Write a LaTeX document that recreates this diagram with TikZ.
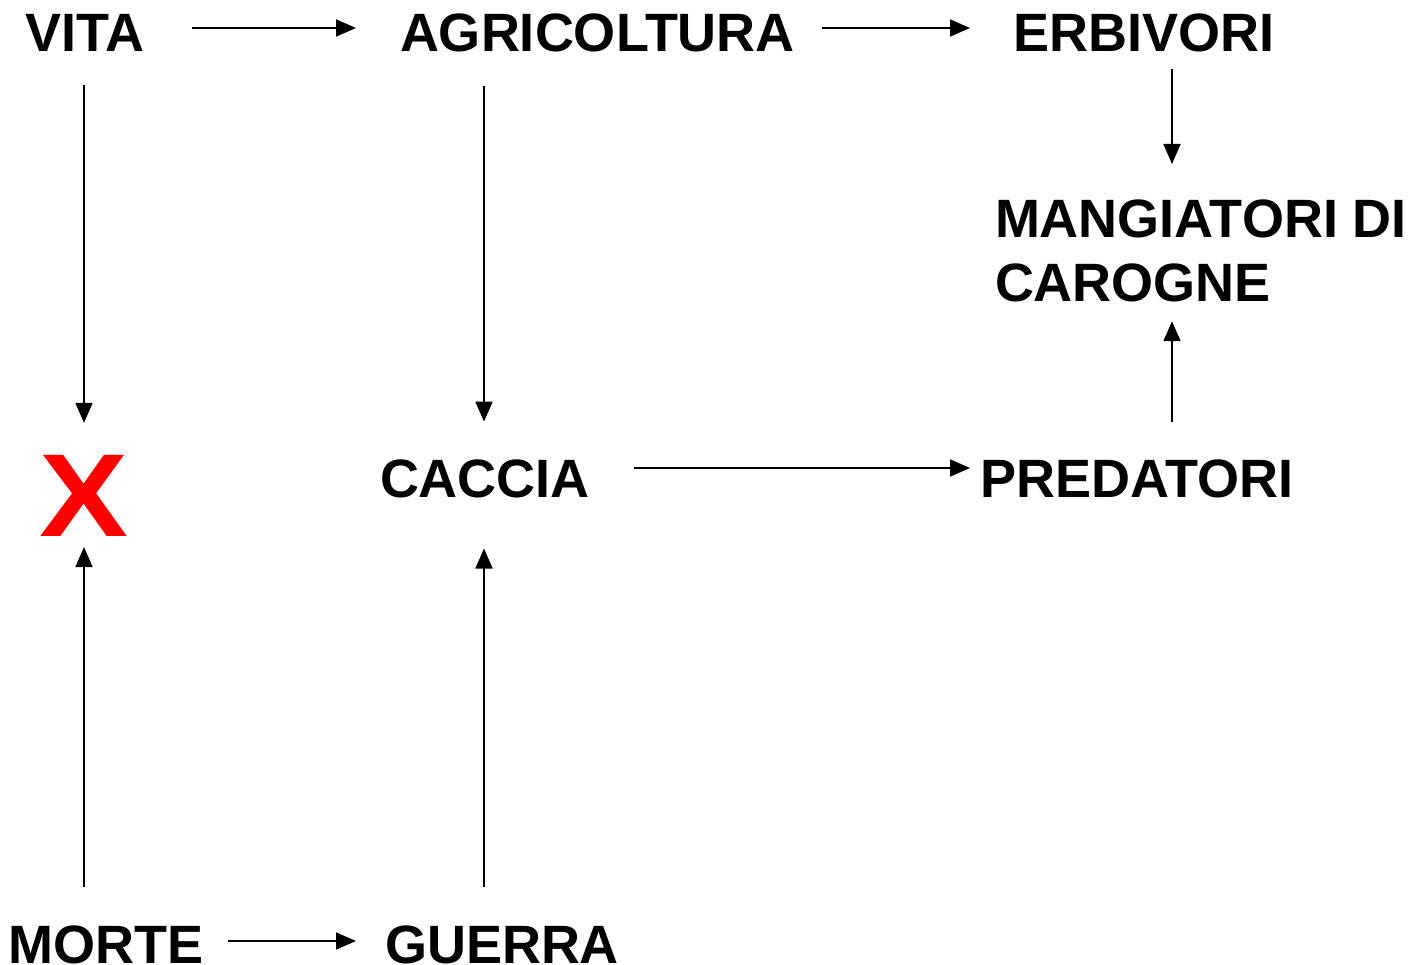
\documentclass[tikz,border=0pt]{standalone}
\usepackage{fontspec}
\setmainfont{Liberation Sans}
\usetikzlibrary{arrows.meta}
\begin{document}
\begin{tikzpicture}[x=1pt,y=-1pt,
  lbl/.style={inner sep=0pt,outer sep=0pt,anchor=base west,font=\fontsize{54}{64}\selectfont\bfseries},
  arr/.style={line width=1.8pt,-{Triangle[length=20pt,width=17pt]}}]
\useasboundingbox (0,0) rectangle (1414,965);
\coordinate (col1) at (84,0);
\coordinate (col2) at (484,0);
\coordinate (col3) at (1172,0);
\coordinate (rowA) at (0,28);
\coordinate (rowB) at (0,468);
\coordinate (rowC) at (0,941);
\node[lbl] (vita) at (25,52) {VITA};
\node[lbl] (agri) at (400,52) {AGRICOLTURA};
\node[lbl] (erb) at (1013,52) {ERBIVORI};
\node[lbl,anchor=north west,align=left] (mang) at (995,200) {MANGIATORI DI\\CAROGNE};
\node[lbl] (caccia) at (380,497) {CACCIA};
\node[lbl] (pred) at (980,497) {PREDATORI};
\node[inner sep=0pt,outer sep=0pt,text=red,xscale=1.13,font=\fontsize{118}{118}\selectfont\bfseries] (cross) at (84,495.5) {X};
\node[lbl] (morte) at (9,963) {MORTE};
\node[lbl] (guerra) at (385,963) {GUERRA};
\draw[arr,shorten <=48pt,shorten >=44pt] (vita.east |- rowA) -- (agri.west |- rowA);
\draw[arr,shorten <=27pt,shorten >=43pt] (agri.east |- rowA) -- (erb.west |- rowA);
\draw[arr,shorten <=33pt,shorten >=32pt] (vita.south -| col1) -- (cross.north);
\draw[arr,shorten <=33pt,shorten >=37.7pt] (agri.south -| col2) -- (caccia.north -| col2);
\draw[arr,shorten <=16pt,shorten >=36pt] (erb.south -| col3) -- (mang.north -| col3);
\draw[arr,shorten <=37pt,shorten >=19pt] (pred.north -| col3) -- (mang.south -| col3);
\draw[arr,shorten <=44pt,shorten >=10pt] (caccia.east |- rowB) -- (pred.west |- rowB);
\draw[arr,shorten <=38.7pt,shorten >=11pt] (morte.north -| col1) -- (cross.south);
\draw[arr,shorten <=38.7pt,shorten >=51pt] (guerra.north -| col2) -- (caccia.south -| col2);
\draw[arr,shorten <=24pt,shorten >=29pt] (morte.east |- rowC) -- (guerra.west |- rowC);
\end{tikzpicture}
\end{document}
